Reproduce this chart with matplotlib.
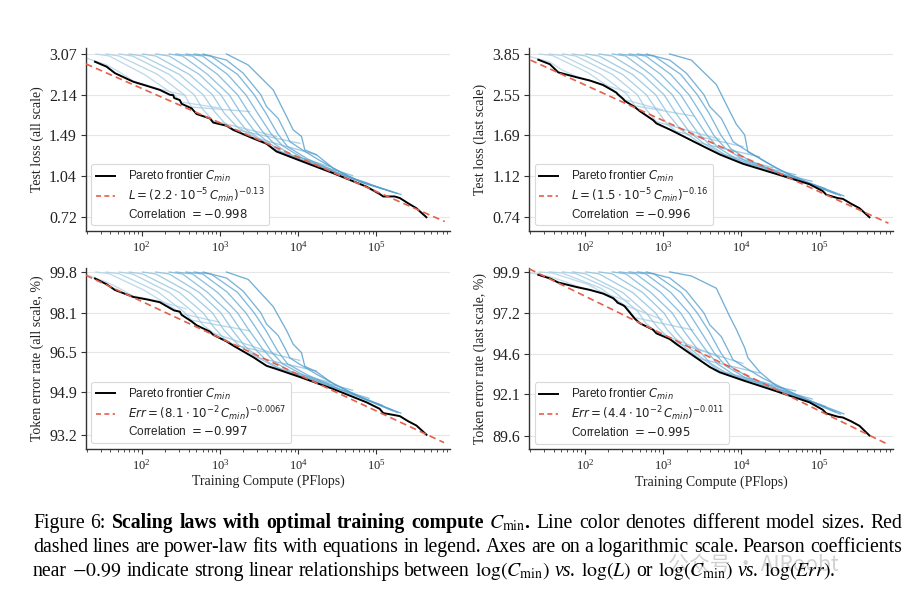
import matplotlib
matplotlib.use("Agg")
import matplotlib.pyplot as plt
import numpy as np
from matplotlib.lines import Line2D
from matplotlib.ticker import NullLocator, LogLocator, NullFormatter

plt.rcParams.update({
    "font.family": ["Liberation Serif", "DejaVu Serif"],
    "mathtext.fontset": "stix",
    "axes.linewidth": 1.0,
})

# ------------------------------------------------------------------ data
# training compute (PFlops) of each model's curve (shared by all panels)
MODEL_COMPUTE = [
    [19.5, 35.1, 51.9, 78.3, 168, 368],
    [26.1, 38.7, 108, 261, 324, 980],
    [35.1, 51.9, 160, 351, 435, 2415],
    [51.9, 76.7, 225, 470, 601, 822, 5290],
    [69.6, 103, 303, 612, 847, 1135, 1479, 10500],
    [103, 152, 406, 805, 1135, 1682, 2938, 17140],
    [152, 225, 545, 1030, 1452, 2148, 3337, 5290, 25350],
    [225, 334, 696, 1315, 1854, 2742, 4063, 6310, 10500, 49430],
    [274, 448, 934, 1682, 2366, 3505, 4940, 8470, 18530, 80570],
    [368, 601, 1253, 2148, 3027, 4480, 6310, 11350, 28000, 119400],
    [470, 768, 1682, 2742, 3865, 5450, 7310, 13150, 40640, 160000],
    [612, 1216, 1986, 3337, 3945, 5560, 6760, 7830, 10500, 18530, 49430, 185400],
    [1216, 2301, 4800, 7100, 8630, 11030, 12160, 17140, 28000, 66260, 204500],
]

LOSS_ALL_CURVES = [
    [2.961, 2.794, 2.617, 2.417, 2.248, 2.121],
    [3.070, 3.015, 2.561, 2.136, 2.001, 1.901],
    [3.070, 3.015, 2.561, 2.136, 1.915, 1.840],
    [3.070, 3.015, 2.561, 2.136, 1.881, 1.694, 1.475],
    [3.070, 3.015, 2.561, 2.136, 1.847, 1.669, 1.575, 1.387],
    [3.070, 3.015, 2.561, 2.136, 1.815, 1.598, 1.454, 1.253],
    [3.070, 3.015, 2.561, 2.136, 1.815, 1.570, 1.433, 1.304, 1.128],
    [3.070, 3.015, 2.561, 2.136, 1.815, 1.552, 1.408, 1.276, 1.204, 1.042],
    [3.070, 3.015, 2.561, 2.136, 1.815, 1.541, 1.382, 1.239, 1.128, 0.969],
    [3.070, 3.015, 2.561, 2.136, 1.815, 1.514, 1.358, 1.217, 1.080, 0.927],
    [3.070, 3.015, 2.561, 2.136, 1.815, 1.514, 1.348, 1.208, 1.034, 0.901],
    [3.070, 2.908, 2.589, 2.136, 1.922, 1.731, 1.541, 1.408, 1.328, 1.195, 1.012, 0.888],
    [3.070, 2.784, 2.231, 1.763, 1.564, 1.475, 1.309, 1.253, 1.112, 0.976, 0.881],
]

LOSS_LAST_CURVES = [
    [3.756, 3.560, 3.264, 3.070, 2.838, 2.603],
    [3.850, 3.788, 3.198, 2.603, 2.426, 2.189],
    [3.850, 3.788, 3.133, 2.549, 2.282, 2.058],
    [3.850, 3.772, 3.133, 2.549, 2.208, 1.942, 1.627],
    [3.850, 3.772, 3.133, 2.549, 2.162, 1.895, 1.759, 1.511],
    [3.850, 3.772, 3.133, 2.549, 2.119, 1.796, 1.568, 1.363],
    [3.850, 3.772, 3.133, 2.549, 2.119, 1.759, 1.555, 1.415, 1.219],
    [3.850, 3.772, 3.133, 2.549, 2.119, 1.745, 1.524, 1.386, 1.286, 1.137],
    [3.850, 3.772, 3.133, 2.549, 2.119, 1.724, 1.505, 1.340, 1.209, 1.064],
    [3.850, 3.772, 3.133, 2.549, 2.119, 1.688, 1.480, 1.307, 1.165, 0.988],
    [3.850, 3.772, 3.133, 2.549, 2.119, 1.702, 1.480, 1.302, 1.118, 0.937],
    [3.850, 3.620, 3.172, 2.549, 2.263, 2.008, 1.759, 1.588, 1.486, 1.318, 1.100, 0.921],
    [3.850, 3.620, 2.827, 2.162, 1.895, 1.702, 1.432, 1.346, 1.214, 1.064, 0.918],
]

ERR_ALL_CURVES = [
    [99.70, 99.39, 99.12, 98.80, 98.58, 98.27],
    [99.80, 99.73, 99.04, 98.27, 98.07, 97.72],
    [99.80, 99.73, 98.98, 98.13, 97.80, 97.36],
    [99.80, 99.72, 98.95, 98.10, 97.62, 97.27, 96.40],
    [99.80, 99.72, 98.95, 98.10, 97.49, 97.04, 96.80, 96.16],
    [99.80, 99.72, 98.95, 98.10, 97.38, 96.82, 96.28, 95.73],
    [99.80, 99.72, 98.95, 98.10, 97.38, 96.69, 96.21, 95.86, 95.27],
    [99.80, 99.72, 98.95, 98.10, 97.38, 96.66, 96.10, 95.78, 95.54, 94.96],
    [99.80, 99.72, 98.95, 98.10, 97.38, 96.63, 96.10, 95.67, 95.27, 94.63],
    [99.80, 99.72, 98.95, 98.10, 97.38, 96.53, 96.02, 95.59, 95.08, 94.36],
    [99.80, 99.72, 98.95, 98.10, 97.38, 96.55, 96.02, 95.57, 94.90, 94.15],
    [99.80, 99.55, 99.00, 98.10, 97.64, 97.17, 96.66, 96.26, 96.00, 95.54, 94.83, 94.07],
    [99.80, 99.49, 98.36, 97.38, 96.82, 96.47, 95.92, 95.70, 95.22, 94.65, 94.05],
]

ERR_LAST_CURVES = [
    [99.85, 99.60, 99.31, 98.96, 98.52, 97.96],
    [99.90, 99.82, 99.09, 98.01, 97.71, 96.78],
    [99.90, 99.82, 98.82, 97.52, 96.91, 96.11],
    [99.90, 99.79, 98.69, 97.34, 96.55, 96.00, 94.38],
    [99.90, 99.77, 98.55, 97.20, 96.29, 95.69, 95.30, 94.00],
    [99.90, 99.77, 98.55, 97.20, 96.11, 95.22, 94.30, 93.40],
    [99.90, 99.77, 98.55, 97.20, 96.03, 94.99, 94.23, 93.53, 92.68],
    [99.90, 99.77, 98.55, 97.20, 96.03, 94.91, 94.00, 93.43, 93.03, 92.30],
    [99.90, 99.77, 98.55, 97.20, 96.03, 94.86, 93.98, 93.23, 92.65, 91.80],
    [99.90, 99.77, 98.55, 97.20, 96.03, 94.68, 93.85, 93.10, 92.38, 91.35],
    [99.90, 99.77, 98.55, 97.20, 96.03, 94.68, 93.80, 93.08, 92.18, 91.00],
    [99.90, 99.50, 98.63, 97.20, 96.45, 95.69, 94.86, 94.23, 93.83, 93.10, 92.10, 90.88],
    [99.90, 99.63, 98.82, 96.99, 96.16, 94.99, 94.35, 93.48, 92.60, 91.80, 90.90],
]

FRONTIER_COMPUTE = [25.4, 35.7, 45.7, 78.3, 116, 171, 230, 254, 261, 308, 324, 435, 504,
                    745, 822, 1216, 1479, 2667, 3945, 5287, 10500, 28000, 74500, 110000,
                    122000, 171000, 199000, 254000, 324000, 435000]
FRONTIER_LOSS_ALL = [2.866, 2.743, 2.589, 2.399, 2.314, 2.231, 2.136, 2.128, 2.075, 2.038,
                     1.972, 1.894, 1.801, 1.731, 1.669, 1.622, 1.564, 1.449, 1.382, 1.290,
                     1.191, 1.064, 0.944, 0.884, 0.865, 0.865, 0.853, 0.814, 0.779, 0.719]
FRONTIER_LOSS_LAST = [3.634, 3.473, 3.198, 3.044, 2.944, 2.814, 2.656, 2.602, 2.570, 2.446,
                      2.397, 2.253, 2.162, 1.975, 1.910, 1.796, 1.737, 1.568, 1.467, 1.396,
                      1.270, 1.146, 1.033, 0.964, 0.929, 0.898, 0.891, 0.848, 0.811, 0.740]
FRONTIER_ERR_ALL = [99.53, 99.29, 99.05, 98.76, 98.66, 98.54, 98.30, 98.22, 98.20, 98.15,
                    98.02, 97.75, 97.59, 97.33, 97.20, 96.93, 96.76, 96.29, 95.94, 95.81,
                    95.49, 95.01, 94.48, 94.22, 94.05, 93.97, 93.93, 93.73, 93.56, 93.20]
FRONTIER_ERR_LAST = [99.71, 99.47, 99.20, 98.90, 98.71, 98.47, 98.17, 97.96, 97.88, 97.71,
                     97.63, 96.84, 96.55, 96.13, 95.90, 95.54, 95.22, 94.35, 93.78, 93.45,
                     92.95, 92.28, 91.60, 91.15, 90.93, 90.73, 90.68, 90.45, 90.18, 89.60]

FIT_COMPUTE = [[19.5, 7.45e5], [20.2, 7.6e5], [19.5, 7.3e5], [19.5, 7.3e5]]
FIT_VALUES = [[2.81, 0.692], [3.62, 0.697], [99.66, 92.89], [100.1, 89.1]]

YTICKS = [[3.07, 2.14, 1.49, 1.04, 0.72],
          [3.85, 2.55, 1.69, 1.12, 0.74],
          [99.8, 98.1, 96.5, 94.9, 93.2],
          [99.9, 97.2, 94.6, 92.1, 89.6]]
YTICK_LABELS = [["3.07", "2.14", "1.49", "1.04", "0.72"],
                ["3.85", "2.55", "1.69", "1.12", "0.74"],
                ["99.8", "98.1", "96.5", "94.9", "93.2"],
                ["99.9", "97.2", "94.6", "92.1", "89.6"]]
YLIMS = [(0.638, 3.238), (0.646, 4.09), (92.66, 99.97), (88.8, 100.16)]
YLABELS = ["Test loss (all scale)", "Test loss (last scale)",
           "Token error rate (all scale, %)", "Token error rate (last scale, %)"]
FIT_LABELS = [r"$L = (2.2\cdot 10^{-5}\,C_{min})^{-0.13}$",
              r"$L = (1.5\cdot 10^{-5}\,C_{min})^{-0.16}$",
              r"$Err = (8.1\cdot 10^{-2}\,C_{min})^{-0.0067}$",
              r"$Err = (4.4\cdot 10^{-2}\,C_{min})^{-0.011}$"]
CORRELATIONS = ["-0.998", "-0.996", "-0.997", "-0.995"]
XLABEL = "Training Compute (PFlops)"
XLIM = (19.5, 8.7e5)

CURVES = [LOSS_ALL_CURVES, LOSS_LAST_CURVES, ERR_ALL_CURVES, ERR_LAST_CURVES]
FRONTIERS = [FRONTIER_LOSS_ALL, FRONTIER_LOSS_LAST, FRONTIER_ERR_ALL, FRONTIER_ERR_LAST]

CAPTION_LINES = [
    [("Figure", "normal", "normal"), ("6:", "normal", "normal"),
     ("Scaling", "bold", "normal"), ("laws", "bold", "normal"), ("with", "bold", "normal"),
     ("optimal", "bold", "normal"), ("training", "bold", "normal"), ("compute", "bold", "normal"),
     (r"$C_{\mathrm{min}}$.", "bold", "normal"),
     ("Line", "normal", "normal"), ("color", "normal", "normal"), ("denotes", "normal", "normal"),
     ("different", "normal", "normal"), ("model", "normal", "normal"), ("sizes.", "normal", "normal"),
     ("Red", "normal", "normal")],
    [(w, "normal", "normal") for w in
     "dashed lines are power-law fits with equations in legend. Axes are on a logarithmic scale. Pearson coefficients".split()],
    [("near", "normal", "normal"), (r"$-0.99$", "normal", "normal"), ("indicate", "normal", "normal"),
     ("strong", "normal", "normal"), ("linear", "normal", "normal"), ("relationships", "normal", "normal"),
     ("between", "normal", "normal"), (r"$\log(C_{\mathrm{min}})$", "normal", "normal"),
     ("vs.", "normal", "italic"), (r"$\log(L)$", "normal", "normal"), ("or", "normal", "normal"),
     (r"$\log(C_{\mathrm{min}})$", "normal", "normal"), ("vs.", "normal", "italic"),
     (r"$\log(Err)$.", "normal", "normal")],
]

# ------------------------------------------------------------------ layout
W, H = 922, 597
fig = plt.figure(figsize=(W / 100, H / 100), dpi=100)
AX_PX = [(86, 48, 450, 230.7), (529.3, 48, 893, 230.7),
         (86, 268, 450, 448.5), (529.3, 268, 893, 449)]

RED = "#e5604b"
colors = plt.cm.Blues(np.linspace(0.30, 0.58, len(MODEL_COMPUTE)))

for i, (l, t, r, b) in enumerate(AX_PX):
    ax = fig.add_axes([l / W, 1 - b / H, (r - l) / W, (b - t) / H])
    for xs, ys, c in zip(MODEL_COMPUTE, CURVES[i], colors):
        ax.plot(xs, ys, color=c, lw=0.95, alpha=0.8, zorder=2)
    ax.plot(FRONTIER_COMPUTE, FRONTIERS[i], color="black", lw=1.4, zorder=3)
    ax.plot(FIT_COMPUTE[i], FIT_VALUES[i], color=RED, lw=1.2, ls=(0, (4, 2.5)), zorder=4)

    ax.set_xscale("log")
    ax.set_yscale("log")
    ax.set_xlim(*XLIM)
    ax.set_ylim(*YLIMS[i])
    ax.set_yticks(YTICKS[i], YTICK_LABELS[i])
    ax.yaxis.set_minor_locator(NullLocator())
    ax.yaxis.set_minor_formatter(NullFormatter())
    ax.xaxis.set_major_locator(LogLocator(base=10, numticks=10))
    ax.xaxis.set_minor_locator(LogLocator(base=10, subs=np.arange(2, 10), numticks=20))
    ax.xaxis.set_minor_formatter(NullFormatter())

    for s in ("top", "right"):
        ax.spines[s].set_visible(False)
    for s in ("left", "bottom"):
        ax.spines[s].set_color("#333333")
    ax.tick_params(axis="both", which="major", direction="out", length=3.5, width=0.8,
                   color="#333333", labelcolor="#222222")
    ax.tick_params(axis="x", which="minor", direction="out", length=2, width=0.6, color="#333333")
    ax.tick_params(axis="y", labelsize=11.5, pad=3)
    ax.tick_params(axis="x", labelsize=9, pad=3)
    ax.yaxis.grid(True, color="#e6e6e6", lw=0.8)
    ax.set_axisbelow(True)
    ax.set_ylabel(YLABELS[i], fontsize=10, color="#222222", labelpad=4)
    if i >= 2:
        ax.set_xlabel(XLABEL, fontsize=10, color="#222222", labelpad=2)

    handles = [Line2D([], [], color="black", lw=1.4),
               Line2D([], [], color=RED, lw=1.2, ls=(0, (3, 2))),
               Line2D([], [], color="none")]
    labels = [r"Pareto frontier $C_{min}$", FIT_LABELS[i],
              r"Correlation $= " + CORRELATIONS[i] + "$"]
    leg = ax.legend(handles, labels, loc="lower left",
                    prop={"family": ["Liberation Sans", "DejaVu Sans"], "size": 8.5},
                    frameon=True, fancybox=True, framealpha=1, edgecolor="#d9d9d9",
                    borderaxespad=0.45, handlelength=1.6, handletextpad=1.1,
                    borderpad=0.4, labelspacing=0.22)
    leg.get_frame().set_linewidth(0.8)
    for txt in leg.get_texts():
        txt.set_math_fontfamily("dejavusans")
        txt.set_color("#222222")

# ------------------------------------------------------------------ caption
renderer = fig.canvas.get_renderer()
LEFT, RIGHT = 33, 902
BASELINES = [528, 552, 576]
fs0 = 13.0

line_objs = []
for line in CAPTION_LINES:
    objs = [fig.text(0, 0, txt, fontsize=fs0, fontweight=wt, fontstyle=st,
                     ha="left", va="baseline", color="black") for txt, wt, st in line]
    line_objs.append(objs)

def widths(objs):
    return [o.get_window_extent(renderer).width for o in objs]

sp0 = 0.25 * fs0 * 100 / 72
nat3 = sum(widths(line_objs[2])) + sp0 * (len(line_objs[2]) - 1)
fs = fs0 * (862 - LEFT) / nat3
nat1 = sum(widths(line_objs[0])) + sp0 * (len(line_objs[0]) - 1)
nat2 = sum(widths(line_objs[1])) + sp0 * (len(line_objs[1]) - 1)
fs = min(fs, fs0 * (RIGHT - LEFT) / nat1, fs0 * (RIGHT - LEFT) / nat2)
for objs in line_objs:
    for o in objs:
        o.set_fontsize(fs)
sp = 0.25 * fs * 100 / 72

for li, objs in enumerate(line_objs):
    ws = widths(objs)
    if li < 2:
        gap = (RIGHT - LEFT - sum(ws)) / (len(objs) - 1)
    else:
        gap = sp
    x = LEFT
    for o, w in zip(objs, ws):
        o.set_position((x / W, 1 - BASELINES[li] / H))
        x += w + gap

# faint watermark of the screenshot
fig.text(668 / W, 1 - 571 / H, "公众号 · AIRoobt", fontsize=15,
         family=["Noto Sans CJK SC", "DejaVu Sans"], color="#9a9a9a", alpha=0.45,
         ha="left", va="baseline", zorder=0)

fig.savefig("out.png", dpi=100)
